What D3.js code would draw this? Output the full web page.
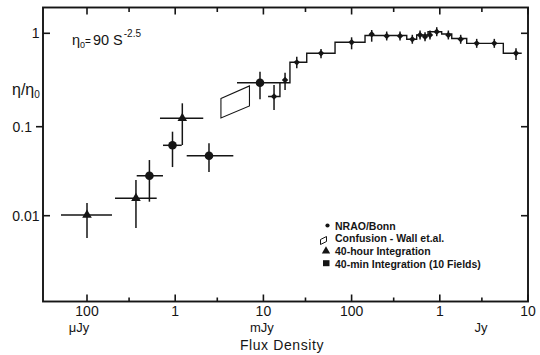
<!DOCTYPE html>
<html><head><meta charset="utf-8">
<script src="https://cdn.jsdelivr.net/npm/d3@7"></script>
<style>
body{margin:0;background:#fff;}
svg{display:block;font-family:"Liberation Sans",Arial,sans-serif;}
</style></head><body>
<svg id="c" width="540" height="355"></svg>
<script>
// ---------- data (flux in mJy, eta = η/η0) ----------
const xTickValues = [0.1, 1, 10, 100, 1000, 10000];
const xTickLabels = ["100", "1", "10", "100", "1", "10"];
const xMinorTicks = [0.3, 3, 30, 300, 3000];
const xUnitLabels = ["μJy", "mJy", "Jy"];
const yTickValues = [0.01, 0.1, 1];
const yTickLabels = ["0.01", "0.1", "1"];

// NRAO/Bonn source counts
const nraoFlux  = [13.2, 17.6, 23.9, 45, 100, 169, 250, 354, 488, 597, 680, 774, 923, 1250, 1725, 2620, 4150, 7310];
const nraoEta   = [0.2105, 0.316, 0.489, 0.6105, 0.801, 0.976, 0.936, 0.936, 0.863, 0.959, 0.920, 0.959, 1.040, 0.959, 0.863, 0.781, 0.781, 0.6105];
const nraoEtaLo = [0.151, 0.247, 0.422, 0.540, 0.674, 0.813, 0.838, 0.838, 0.773, 0.859, 0.824, 0.859, 0.931, 0.859, 0.773, 0.699, 0.699, 0.518];
const nraoEtaHi = [0.2796, 0.3786, 0.562, 0.679, 0.906, 1.085, 1.045, 1.045, 0.964, 1.071, 1.028, 1.071, 1.162, 1.071, 0.964, 0.872, 0.872, 0.691];

// step histogram through the NRAO/Bonn counts
const histEdges = [11.3, 15.4, 20.0, 31.0, 64.9, 142, 422, 547, 735, 1050, 1366, 2020, 5250, 8490];
const histEta   = [0.2105, 0.2955, 0.489, 0.6105, 0.801, 0.947, 0.863, 0.959, 1.040, 0.983, 0.880, 0.781, 0.6105];

// 40-hour integration (triangles)
const hourFlux   = [0.1, 0.359, 1.204];
const hourFluxLo = [0.0507, 0.2077, 0.672];
const hourFluxHi = [0.192, 0.617, 2.08];
const hourEta    = [0.0102, 0.0157, 0.123];
const hourEtaLo  = [0.00561, 0.00728, 0.0623];
const hourEtaHi  = [0.0139, 0.0252, 0.178];

// 40-min integration, 10 fields
const minFlux   = [0.51, 0.932, 2.416, 9.15];
const minFluxLo = [0.366, 0.727, 1.35, 5.02];
const minFluxHi = [0.727, 1.185, 4.56, 15.4];
const minEta    = [0.0281, 0.0618, 0.0472, 0.296];
const minEtaLo  = [0.01436, 0.0352, 0.031, 0.1965];
const minEtaHi  = [0.0422, 0.0879, 0.0651, 0.388];

// Confusion – Wall et al. (parallelogram corners)
const confFlux = [3.3, 6.95, 6.95, 3.3];
const confEta  = [0.2004, 0.273, 0.1667, 0.124];

const legendLabels = ["NRAO/Bonn", "Confusion - Wall et.al.", "40-hour Integration", "40-min Integration (10 Fields)"];

// ---------- layout ----------
const frame = {left: 43, right: 528, top: 7.5, bottom: 301.5};
const ink = "#151515";
const svg = d3.select("#c");

const x = d3.scaleLog().domain([0.1, 10000]).range([87, 528]);
const y = d3.scaleLog().domain([0.01, 0.1, 1]).range([215.7, 126.7, 33.3]);

// frame
svg.append("rect").attr("x", frame.left).attr("y", frame.top)
  .attr("width", frame.right - frame.left).attr("height", frame.bottom - frame.top)
  .attr("fill", "none").attr("stroke", ink).attr("stroke-width", 1.9);

// x ticks (bottom and top, inward)
const gt = svg.append("g").attr("stroke", ink).attr("stroke-width", 1.6);
xTickValues.forEach(v => {
  gt.append("line").attr("x1", x(v)).attr("x2", x(v)).attr("y1", frame.bottom).attr("y2", frame.bottom - 7);
  gt.append("line").attr("x1", x(v)).attr("x2", x(v)).attr("y1", frame.top).attr("y2", frame.top + 7);
});
xMinorTicks.forEach(v => {
  gt.append("line").attr("x1", x(v)).attr("x2", x(v)).attr("y1", frame.bottom).attr("y2", frame.bottom - 4);
  gt.append("line").attr("x1", x(v)).attr("x2", x(v)).attr("y1", frame.top).attr("y2", frame.top + 4.5);
});
// y ticks (left and right)
const yLeftTickDir = [1, -1, 1];
yTickValues.forEach((v, i) => {
  gt.append("line").attr("x1", frame.left).attr("x2", frame.left + 7 * yLeftTickDir[i]).attr("y1", y(v)).attr("y2", y(v));
  gt.append("line").attr("x1", frame.right).attr("x2", frame.right - 7).attr("y1", y(v)).attr("y2", y(v));
});

// tick labels
const tl = svg.append("g").attr("fill", ink).attr("font-size", 14);
xTickValues.forEach((v, i) => {
  tl.append("text").attr("x", x(v)).attr("y", 316).attr("text-anchor", "middle").text(xTickLabels[i]);
});
const unitAt = [0.081, 9.6, 2930];
xUnitLabels.forEach((u, i) => {
  tl.append("text").attr("x", x(unitAt[i])).attr("y", 332).attr("font-size", 13)
    .attr("text-anchor", "middle").text(u);
});
const yLabelEnd = [39.5, 32, 39.5];
yTickValues.forEach((v, i) => {
  tl.append("text").attr("x", yLabelEnd[i]).attr("y", y(v) + 5).attr("text-anchor", "end").text(yTickLabels[i]);
});

// axis titles
svg.append("text").attr("x", 282).attr("y", 350).attr("text-anchor", "middle")
  .attr("font-size", 14).attr("letter-spacing", 0.6).attr("fill", ink).text("Flux Density");
const yt = svg.append("text").attr("x", 12).attr("y", 95).attr("font-size", 16).attr("fill", ink);
yt.append("tspan").text("η/η");
yt.append("tspan").attr("font-size", 10).attr("dy", 3).text("0");

// annotation η0 = 90 S^-2.5
const an = svg.append("text").attr("x", 72).attr("y", 45).attr("font-size", 14.5).attr("fill", ink);
an.append("tspan").text("η");
an.append("tspan").attr("font-size", 9).attr("dy", 3).text("0");
an.append("tspan").attr("font-size", 10).attr("dy", -3).text("=");
an.append("tspan").attr("dx", 2).text("90 S");
an.append("tspan").attr("font-size", 10).attr("dy", -8).attr("dx", 1).text("-2.5");

// histogram
const stepPts = [];
histEta.forEach((e, i) => { stepPts.push([histEdges[i], e]); stepPts.push([histEdges[i + 1], e]); });
svg.append("path")
  .attr("d", d3.line().x(d => x(d[0])).y(d => y(d[1]))(stepPts))
  .attr("fill", "none").attr("stroke", ink).attr("stroke-width", 1.4);

// confusion parallelogram
svg.append("path")
  .attr("d", d3.line().x(d => x(d[0])).y(d => y(d[1])).curve(d3.curveLinearClosed)(confFlux.map((f, i) => [f, confEta[i]])))
  .attr("fill", "none").attr("stroke", ink).attr("stroke-width", 1.1);

// error bars
const eb = svg.append("g").attr("stroke", ink).attr("stroke-width", 1.5);
function errBars(fl, et, elo, ehi, flo, fhi) {
  fl.forEach((f, i) => {
    eb.append("line").attr("x1", x(f)).attr("x2", x(f)).attr("y1", y(elo[i])).attr("y2", y(ehi[i]));
    if (flo) eb.append("line").attr("x1", x(flo[i])).attr("x2", x(fhi[i])).attr("y1", y(et[i])).attr("y2", y(et[i]));
  });
}
errBars(nraoFlux, nraoEta, nraoEtaLo, nraoEtaHi);
errBars(hourFlux, hourEta, hourEtaLo, hourEtaHi, hourFluxLo, hourFluxHi);
errBars(minFlux, minEta, minEtaLo, minEtaHi, minFluxLo, minFluxHi);

// markers
const mk = svg.append("g").attr("fill", ink);
nraoFlux.forEach((f, i) => {
  mk.append("path").attr("d", d3.symbol(d3.symbolDiamond2, 26)())
    .attr("transform", `translate(${x(f)},${y(nraoEta[i])})`);
});
hourFlux.forEach((f, i) => {
  mk.append("path").attr("d", d3.symbol(d3.symbolTriangle, 40)())
    .attr("transform", `translate(${x(f)},${y(hourEta[i])})`);
});
minFlux.forEach((f, i) => {
  mk.append("circle").attr("cx", x(f)).attr("cy", y(minEta[i])).attr("r", 4.3);
});

// legend
const lg = svg.append("g").attr("font-size", 10.5).attr("font-weight", "bold").attr("fill", ink);
const lgBase = [229.5, 242.3, 255, 267.7];
legendLabels.forEach((t, i) => {
  lg.append("text").attr("x", 335).attr("y", lgBase[i]).text(t);
});
lg.append("circle").attr("cx", 327.5).attr("cy", lgBase[0] - 4).attr("r", 2.1);
lg.append("path").attr("d", "M320.5,239.5 L326.5,236.5 L326.5,241.5 L320.5,244.5 Z")
  .attr("fill", "none").attr("stroke", ink).attr("stroke-width", 1);
lg.append("path").attr("d", d3.symbol(d3.symbolTriangle, 30)()).attr("transform", `translate(326,${lgBase[2] - 4})`);
lg.append("rect").attr("x", 323).attr("y", lgBase[3] - 7.5).attr("width", 6.5).attr("height", 6);
</script>
</body></html>
